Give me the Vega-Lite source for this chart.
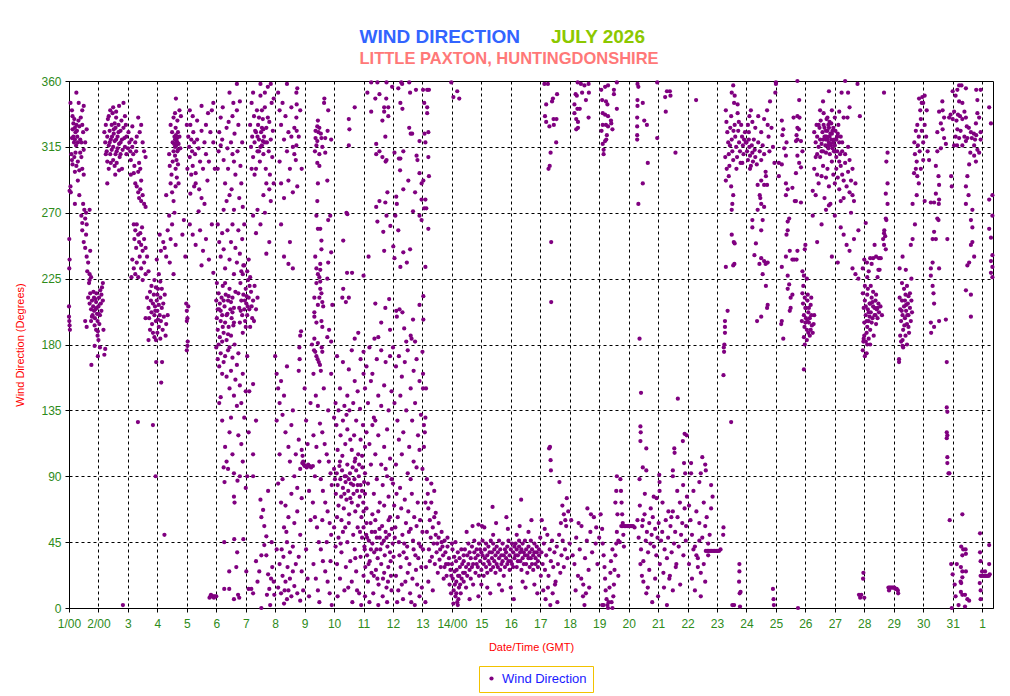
{
  "$schema": "https://vega.github.io/schema/vega-lite/v6.json",
  "background": "white",
  "padding": {"left": 14, "top": 27, "right": 18, "bottom": 4},
  "title": {
    "text": "WIND DIRECTION",
    "subtitle": "LITTLE PAXTON, HUNTINGDONSHIRE",
    "anchor": "start",
    "dx": 345,
    "dy": 40,
    "color": "#3264ff",
    "subtitleColor": "#ff7878",
    "font": "Liberation Sans",
    "subtitleFont": "Liberation Sans",
    "fontSize": 19,
    "subtitleFontSize": 16.5,
    "fontWeight": "bold",
    "subtitleFontWeight": "bold",
    "subtitlePadding": 4,
    "offset": 0
  },
  "vconcat": [
    {
      "title": {
        "text": "JULY 2026",
        "anchor": "start",
        "dx": 536,
        "color": "#8cc800",
        "font": "Liberation Sans",
        "fontSize": 19,
        "fontWeight": "bold",
        "offset": 28
      },
      "width": 924,
      "height": 527,
      "data": {
        "values": [
          {"day":1.01,"dir":252},{"day":1.02,"dir":238},{"day":1.01,"dir":232},{"day":1.0,"dir":206},{"day":1.01,"dir":196},{"day":1.02,"dir":193},{"day":1.03,"dir":190},{"day":1.0,"dir":199},
          {"day":1.1,"dir":340},{"day":1.12,"dir":336},{"day":1.15,"dir":331},{"day":1.18,"dir":334},{"day":1.2,"dir":328},{"day":1.22,"dir":325},{"day":1.25,"dir":330},{"day":1.28,"dir":322},{"day":1.3,"dir":318},{"day":1.15,"dir":322},{"day":1.17,"dir":318},{"day":1.2,"dir":320},{"day":1.24,"dir":316},{"day":1.27,"dir":326},{"day":1.32,"dir":333},{"day":1.35,"dir":329},{"day":1.38,"dir":320},{"day":1.12,"dir":327},{"day":1.1,"dir":321},{"day":1.4,"dir":335},{"day":1.45,"dir":340},{"day":1.5,"dir":343},{"day":1.33,"dir":345},{"day":1.25,"dir":352},{"day":1.08,"dir":310},{"day":1.1,"dir":306},{"day":1.12,"dir":303},{"day":1.2,"dir":298},{"day":1.25,"dir":302},{"day":1.3,"dir":305},{"day":1.35,"dir":299},{"day":1.42,"dir":308},{"day":1.45,"dir":300},{"day":1.5,"dir":296},{"day":1.55,"dir":318},{"day":1.6,"dir":327},{"day":1.48,"dir":325},{"day":1.42,"dir":318},{"day":1.22,"dir":311},{"day":1.18,"dir":308},{"day":1.05,"dir":345},{"day":1.45,"dir":330},{"day":1.5,"dir":313},{"day":1.38,"dir":311},
          {"day":1.05,"dir":288},{"day":1.06,"dir":284},{"day":1.3,"dir":292},{"day":1.35,"dir":282},{"day":1.48,"dir":276},{"day":1.52,"dir":272},{"day":1.55,"dir":266},{"day":1.58,"dir":270},{"day":1.6,"dir":262},{"day":1.45,"dir":258},{"day":1.5,"dir":250},{"day":1.55,"dir":246},{"day":1.6,"dir":240},{"day":1.65,"dir":236},{"day":1.62,"dir":230},{"day":1.7,"dir":228},{"day":1.68,"dir":222},{"day":1.75,"dir":226},{"day":1.72,"dir":244},{"day":1.58,"dir":255},{"day":1.42,"dir":268},{"day":1.45,"dir":263},{"day":1.2,"dir":276},{"day":1.7,"dir":272},{"day":1.02,"dir":285},
          {"day":1.65,"dir":212},{"day":1.7,"dir":208},{"day":1.72,"dir":215},{"day":1.75,"dir":204},{"day":1.78,"dir":210},{"day":1.8,"dir":200},{"day":1.82,"dir":206},{"day":1.85,"dir":212},{"day":1.88,"dir":198},{"day":1.9,"dir":204},{"day":1.92,"dir":209},{"day":1.95,"dir":201},{"day":1.97,"dir":196},{"day":2.0,"dir":206},{"day":2.02,"dir":212},{"day":2.05,"dir":200},{"day":2.08,"dir":208},{"day":2.1,"dir":214},{"day":2.12,"dir":219},{"day":2.15,"dir":222},{"day":1.87,"dir":193},{"day":1.92,"dir":190},{"day":1.98,"dir":189},{"day":2.03,"dir":194},{"day":1.78,"dir":199},{"day":1.83,"dir":216},{"day":1.93,"dir":215},{"day":2.06,"dir":217},{"day":1.94,"dir":205},{"day":1.9,"dir":211},{"day":2.0,"dir":201},{"day":1.85,"dir":203},{"day":2.1,"dir":203},{"day":1.75,"dir":196},{"day":1.97,"dir":186},{"day":2.0,"dir":183},{"day":2.05,"dir":178},{"day":1.6,"dir":192},{"day":1.55,"dir":196},{"day":1.98,"dir":172},{"day":1.7,"dir":224},{"day":2.15,"dir":210},{"day":2.17,"dir":190},{"day":1.76,"dir":166},{"day":1.87,"dir":179},{"day":2.2,"dir":173},{"day":2.23,"dir":177},
          {"day":2.2,"dir":325},{"day":2.23,"dir":318},{"day":2.25,"dir":330},{"day":2.28,"dir":312},{"day":2.3,"dir":322},{"day":2.32,"dir":334},{"day":2.35,"dir":316},{"day":2.38,"dir":326},{"day":2.4,"dir":310},{"day":2.42,"dir":320},{"day":2.45,"dir":330},{"day":2.48,"dir":338},{"day":2.5,"dir":315},{"day":2.52,"dir":324},{"day":2.55,"dir":319},{"day":2.58,"dir":328},{"day":2.6,"dir":335},{"day":2.62,"dir":312},{"day":2.65,"dir":322},{"day":2.68,"dir":330},{"day":2.7,"dir":317},{"day":2.72,"dir":308},{"day":2.75,"dir":326},{"day":2.78,"dir":333},{"day":2.8,"dir":320},{"day":2.82,"dir":313},{"day":2.85,"dir":328},{"day":2.88,"dir":321},{"day":2.9,"dir":315},{"day":2.93,"dir":330},{"day":2.95,"dir":322},{"day":2.3,"dir":305},{"day":2.35,"dir":300},{"day":2.42,"dir":304},{"day":2.5,"dir":306},{"day":2.55,"dir":302},{"day":2.62,"dir":304},{"day":2.7,"dir":299},{"day":2.75,"dir":310},{"day":2.4,"dir":340},{"day":2.5,"dir":342},{"day":2.6,"dir":339},{"day":2.7,"dir":343},{"day":2.35,"dir":336},{"day":2.45,"dir":313},{"day":2.55,"dir":331},{"day":2.65,"dir":314},{"day":2.25,"dir":310},{"day":2.52,"dir":327},{"day":2.6,"dir":320},{"day":2.46,"dir":322},{"day":2.38,"dir":318},{"day":2.3,"dir":290},{"day":2.57,"dir":296},{"day":2.85,"dir":345},{"day":2.9,"dir":336},{"day":2.95,"dir":310},{"day":3.0,"dir":314},{"day":2.8,"dir":300},{"day":2.68,"dir":325},{"day":2.75,"dir":318},{"day":2.58,"dir":310},
          {"day":3.02,"dir":325},{"day":3.05,"dir":318},{"day":3.08,"dir":312},{"day":3.1,"dir":306},{"day":3.12,"dir":320},{"day":3.15,"dir":315},{"day":3.18,"dir":310},{"day":3.22,"dir":302},{"day":3.25,"dir":318},{"day":3.28,"dir":312},{"day":3.3,"dir":322},{"day":3.35,"dir":298},{"day":3.38,"dir":304},{"day":3.42,"dir":300},{"day":3.45,"dir":292},{"day":3.5,"dir":318},{"day":3.55,"dir":312},{"day":3.6,"dir":308},{"day":3.45,"dir":330},{"day":3.4,"dir":325},{"day":3.35,"dir":335},{"day":3.2,"dir":297},{"day":3.1,"dir":296},{"day":3.15,"dir":329},
          {"day":3.3,"dir":288},{"day":3.35,"dir":284},{"day":3.38,"dir":280},{"day":3.42,"dir":286},{"day":3.45,"dir":278},{"day":3.5,"dir":282},{"day":3.55,"dir":276},{"day":3.6,"dir":274},{"day":3.25,"dir":290},
          {"day":3.2,"dir":262},{"day":3.25,"dir":258},{"day":3.3,"dir":262},{"day":3.35,"dir":255},{"day":3.38,"dir":250},{"day":3.42,"dir":256},{"day":3.45,"dir":248},{"day":3.5,"dir":244},{"day":3.55,"dir":252},{"day":3.6,"dir":246},{"day":3.28,"dir":246},{"day":3.22,"dir":252},{"day":3.48,"dir":260},
          {"day":3.15,"dir":238},{"day":3.2,"dir":232},{"day":3.25,"dir":228},{"day":3.3,"dir":236},{"day":3.35,"dir":226},{"day":3.4,"dir":240},{"day":3.45,"dir":232},{"day":3.5,"dir":224},{"day":3.55,"dir":236},{"day":3.6,"dir":228},{"day":3.65,"dir":240},{"day":3.7,"dir":230},{"day":3.12,"dir":226},
          {"day":3.65,"dir":212},{"day":3.7,"dir":205},{"day":3.72,"dir":198},{"day":3.75,"dir":216},{"day":3.78,"dir":210},{"day":3.8,"dir":202},{"day":3.82,"dir":194},{"day":3.85,"dir":208},{"day":3.88,"dir":214},{"day":3.9,"dir":200},{"day":3.92,"dir":206},{"day":3.95,"dir":196},{"day":3.98,"dir":210},{"day":4.0,"dir":203},{"day":4.02,"dir":218},{"day":4.05,"dir":207},{"day":4.08,"dir":200},{"day":4.1,"dir":212},{"day":4.12,"dir":196},{"day":4.15,"dir":205},{"day":4.18,"dir":190},{"day":4.2,"dir":208},{"day":4.22,"dir":199},{"day":4.25,"dir":214},{"day":4.28,"dir":186},{"day":4.3,"dir":194},{"day":3.85,"dir":188},{"day":3.9,"dir":185},{"day":3.95,"dir":183},{"day":4.05,"dir":192},{"day":4.0,"dir":188},{"day":4.1,"dir":184},{"day":3.75,"dir":190},{"day":3.8,"dir":220},{"day":4.0,"dir":214},{"day":3.95,"dir":219},{"day":4.15,"dir":218},{"day":4.35,"dir":200},{"day":3.6,"dir":198},{"day":3.7,"dir":183},{"day":4.1,"dir":223},{"day":4.05,"dir":228},{"day":3.98,"dir":238},{"day":4.12,"dir":244},{"day":4.2,"dir":250},{"day":4.25,"dir":246},{"day":4.08,"dir":255},{"day":3.9,"dir":224},{"day":4.02,"dir":197},{"day":3.93,"dir":203},
          {"day":2.83,"dir":2},{"day":3.94,"dir":90},{"day":3.96,"dir":168},{"day":4.13,"dir":154},{"day":4.16,"dir":168},{"day":3.34,"dir":127},{"day":3.85,"dir":125},{"day":4.24,"dir":50},
          {"day":4.45,"dir":330},{"day":4.5,"dir":325},{"day":4.52,"dir":318},{"day":4.55,"dir":312},{"day":4.58,"dir":322},{"day":4.6,"dir":315},{"day":4.62,"dir":328},{"day":4.65,"dir":319},{"day":4.68,"dir":312},{"day":4.7,"dir":325},{"day":4.72,"dir":317},{"day":4.75,"dir":322},{"day":4.78,"dir":314},{"day":4.6,"dir":309},{"day":4.65,"dir":306},{"day":4.7,"dir":303},{"day":4.62,"dir":300},{"day":4.55,"dir":335},{"day":4.6,"dir":338},{"day":4.68,"dir":333},{"day":4.75,"dir":340},{"day":4.8,"dir":336},{"day":4.52,"dir":305},{"day":4.48,"dir":296},{"day":4.45,"dir":290},{"day":4.42,"dir":302},{"day":4.4,"dir":310},{"day":4.5,"dir":284},{"day":4.55,"dir":278},{"day":4.62,"dir":288},{"day":4.66,"dir":294},{"day":4.72,"dir":290},{"day":4.58,"dir":270},{"day":4.64,"dir":316},{"day":4.67,"dir":321},{"day":4.57,"dir":317},{"day":4.7,"dir":313},{"day":4.63,"dir":323},{"day":4.6,"dir":320},{"day":4.68,"dir":318},{"day":4.63,"dir":348},{"day":4.3,"dir":282},{"day":4.4,"dir":268},{"day":4.5,"dir":262},{"day":4.35,"dir":258},{"day":4.45,"dir":252},{"day":4.3,"dir":240},{"day":4.42,"dir":236},{"day":4.55,"dir":228},{"day":4.62,"dir":248},
          {"day":5.0,"dir":330},{"day":5.05,"dir":322},{"day":5.08,"dir":315},{"day":5.1,"dir":308},{"day":5.12,"dir":330},{"day":5.15,"dir":320},{"day":5.18,"dir":312},{"day":5.2,"dir":302},{"day":5.22,"dir":325},{"day":5.25,"dir":318},{"day":5.28,"dir":310},{"day":5.3,"dir":297},{"day":5.35,"dir":320},{"day":5.4,"dir":314},{"day":5.45,"dir":305},{"day":5.5,"dir":326},{"day":5.55,"dir":300},{"day":5.6,"dir":318},{"day":5.65,"dir":310},{"day":5.7,"dir":292},{"day":5.75,"dir":305},{"day":5.8,"dir":325},{"day":5.85,"dir":340},{"day":5.1,"dir":340},{"day":5.2,"dir":336},{"day":5.35,"dir":333},{"day":5.5,"dir":343},{"day":5.02,"dir":300},{"day":5.15,"dir":296},{"day":5.3,"dir":290},{"day":5.42,"dir":286},{"day":5.5,"dir":280},{"day":5.6,"dir":276},{"day":5.4,"dir":271},{"day":5.12,"dir":283},{"day":5.25,"dir":288},{"day":5.65,"dir":330},{"day":5.72,"dir":338},{"day":5.9,"dir":345},{"day":5.9,"dir":318},{"day":5.95,"dir":300},
          {"day":4.98,"dir":208},{"day":5.0,"dir":203},{"day":5.02,"dir":198},{"day":5.05,"dir":206},{"day":5.0,"dir":196},{"day":5.03,"dir":182},{"day":5.0,"dir":176},{"day":5.02,"dir":179},
          {"day":5.1,"dir":262},{"day":5.2,"dir":255},{"day":5.3,"dir":248},{"day":5.45,"dir":258},{"day":5.55,"dir":244},{"day":5.65,"dir":252},{"day":5.75,"dir":238},{"day":5.85,"dir":262},{"day":5.9,"dir":229},{"day":5.5,"dir":234},{"day":4.9,"dir":265},{"day":4.85,"dir":255},{"day":4.95,"dir":240},
          {"day":6.05,"dir":300},{"day":6.08,"dir":312},{"day":6.1,"dir":325},{"day":6.15,"dir":335},{"day":6.2,"dir":320},{"day":6.22,"dir":342},{"day":6.25,"dir":306},{"day":6.3,"dir":290},{"day":6.35,"dir":328},{"day":6.38,"dir":314},{"day":6.4,"dir":300},{"day":6.45,"dir":352},{"day":6.5,"dir":318},{"day":6.52,"dir":286},{"day":6.55,"dir":336},{"day":6.58,"dir":345},{"day":6.6,"dir":305},{"day":6.62,"dir":324},{"day":6.65,"dir":296},{"day":6.7,"dir":358},{"day":6.72,"dir":312},{"day":6.75,"dir":330},{"day":6.78,"dir":280},{"day":6.8,"dir":346},{"day":6.85,"dir":290},{"day":6.88,"dir":318},{"day":6.9,"dir":274},{"day":6.35,"dir":278},{"day":6.45,"dir":282},{"day":6.25,"dir":272},{"day":6.6,"dir":272},{"day":6.15,"dir":316},{"day":6.42,"dir":332},{"day":6.55,"dir":310},{"day":6.7,"dir":340},{"day":6.82,"dir":302},
          {"day":6.05,"dir":262},{"day":6.1,"dir":250},{"day":6.15,"dir":240},{"day":6.2,"dir":256},{"day":6.25,"dir":245},{"day":6.3,"dir":232},{"day":6.38,"dir":258},{"day":6.45,"dir":238},{"day":6.5,"dir":250},{"day":6.55,"dir":262},{"day":6.6,"dir":228},{"day":6.65,"dir":246},{"day":6.7,"dir":236},{"day":6.75,"dir":258},{"day":6.8,"dir":242},{"day":6.88,"dir":252},{"day":6.95,"dir":262},{"day":6.92,"dir":234},
          {"day":6.0,"dir":210},{"day":6.02,"dir":198},{"day":6.05,"dir":190},{"day":6.08,"dir":215},{"day":6.1,"dir":204},{"day":6.12,"dir":185},{"day":6.15,"dir":196},{"day":6.18,"dir":212},{"day":6.2,"dir":200},{"day":6.22,"dir":220},{"day":6.25,"dir":188},{"day":6.28,"dir":206},{"day":6.3,"dir":195},{"day":6.32,"dir":214},{"day":6.35,"dir":183},{"day":6.38,"dir":201},{"day":6.4,"dir":210},{"day":6.42,"dir":192},{"day":6.45,"dir":218},{"day":6.48,"dir":204},{"day":6.5,"dir":186},{"day":6.52,"dir":198},{"day":6.55,"dir":212},{"day":6.58,"dir":193},{"day":6.6,"dir":205},{"day":6.62,"dir":180},{"day":6.65,"dir":216},{"day":6.02,"dir":222},{"day":6.12,"dir":208},{"day":6.22,"dir":192},{"day":6.3,"dir":222},{"day":6.4,"dir":187},{"day":6.5,"dir":209},{"day":6.6,"dir":195},{"day":6.08,"dir":180},{"day":6.2,"dir":182},{"day":6.45,"dir":178},{"day":6.15,"dir":203},{"day":6.35,"dir":200},{"day":6.55,"dir":202},{"day":6.25,"dir":210},{"day":6.05,"dir":204},{"day":6.42,"dir":213},
          {"day":6.75,"dir":215},{"day":6.78,"dir":205},{"day":6.8,"dir":195},{"day":6.82,"dir":222},{"day":6.85,"dir":210},{"day":6.88,"dir":200},{"day":6.9,"dir":228},{"day":6.92,"dir":214},{"day":6.95,"dir":204},{"day":6.98,"dir":196},{"day":7.0,"dir":218},{"day":7.02,"dir":208},{"day":7.05,"dir":200},{"day":7.08,"dir":224},{"day":7.1,"dir":212},{"day":7.12,"dir":204},{"day":7.15,"dir":192},{"day":7.18,"dir":216},{"day":7.2,"dir":206},{"day":7.22,"dir":198},{"day":7.25,"dir":210},{"day":7.3,"dir":220},{"day":7.35,"dir":204},{"day":6.85,"dir":230},{"day":6.95,"dir":234},{"day":7.05,"dir":230},{"day":7.1,"dir":238},{"day":6.9,"dir":188},{"day":7.0,"dir":192},{"day":7.15,"dir":226},{"day":7.28,"dir":196},{"day":7.4,"dir":212},{"day":6.97,"dir":210},{"day":7.03,"dir":213},{"day":7.07,"dir":206},{"day":6.83,"dir":203},{"day":7.13,"dir":220},
          {"day":6.0,"dir":178},{"day":6.05,"dir":170},{"day":6.1,"dir":165},{"day":6.15,"dir":174},{"day":6.2,"dir":160},{"day":6.25,"dir":168},{"day":6.3,"dir":172},{"day":6.35,"dir":158},{"day":6.4,"dir":176},{"day":6.45,"dir":150},{"day":6.5,"dir":162},{"day":6.55,"dir":171},{"day":6.6,"dir":145},{"day":6.65,"dir":156},{"day":6.7,"dir":166},{"day":6.75,"dir":174},{"day":6.8,"dir":152},{"day":6.85,"dir":140},{"day":6.9,"dir":160},{"day":6.95,"dir":130},{"day":7.0,"dir":148},{"day":7.05,"dir":172},{"day":6.1,"dir":140},{"day":6.2,"dir":128},{"day":6.3,"dir":110},{"day":6.35,"dir":100},{"day":6.4,"dir":95},{"day":6.45,"dir":120},{"day":6.55,"dir":105},{"day":6.6,"dir":92},{"day":6.7,"dir":138},{"day":6.75,"dir":118},{"day":6.85,"dir":112},{"day":6.9,"dir":100},{"day":7.0,"dir":82},{"day":7.05,"dir":90},{"day":6.5,"dir":130},{"day":6.15,"dir":144},{"day":7.1,"dir":120},{"day":6.25,"dir":96},{"day":6.8,"dir":90},{"day":6.6,"dir":76},{"day":6.62,"dir":72},{"day":6.28,"dir":86},{"day":6.72,"dir":87},{"day":7.12,"dir":148},{"day":7.25,"dir":153},{"day":7.35,"dir":128},{"day":7.25,"dir":105},{"day":7.25,"dir":90},
          {"day":5.77,"dir":7},{"day":5.8,"dir":8},{"day":5.85,"dir":8},{"day":5.9,"dir":8},{"day":5.95,"dir":8},{"day":6.0,"dir":8},{"day":5.82,"dir":9},{"day":5.92,"dir":7},
          {"day":6.27,"dir":45},{"day":6.61,"dir":47},{"day":6.92,"dir":47},{"day":6.71,"dir":38},{"day":6.44,"dir":25},{"day":6.68,"dir":28},{"day":7.02,"dir":25},{"day":6.27,"dir":13},{"day":6.44,"dir":13},{"day":6.74,"dir":9},{"day":6.78,"dir":7},{"day":6.6,"dir":6},{"day":7.1,"dir":13},{"day":7.19,"dir":13},{"day":7.25,"dir":10},{"day":7.35,"dir":32},{"day":7.46,"dir":25},{"day":7.53,"dir":36},{"day":7.63,"dir":43},{"day":7.59,"dir":67},{"day":7.53,"dir":62},{"day":7.76,"dir":80},{"day":7.5,"dir":74},{"day":7.63,"dir":56},{"day":7.7,"dir":49},{"day":7.7,"dir":36},{"day":7.76,"dir":23},{"day":7.86,"dir":20},{"day":7.8,"dir":13},{"day":7.83,"dir":2},{"day":7.53,"dir":0},{"day":7.72,"dir":9},{"day":7.97,"dir":9},{"day":7.9,"dir":28},{"day":7.95,"dir":18},{"day":7.88,"dir":45},{"day":7.4,"dir":18},
          {"day":7.15,"dir":330},{"day":7.18,"dir":315},{"day":7.2,"dir":345},{"day":7.22,"dir":322},{"day":7.25,"dir":308},{"day":7.28,"dir":336},{"day":7.3,"dir":318},{"day":7.32,"dir":326},{"day":7.35,"dir":300},{"day":7.38,"dir":340},{"day":7.4,"dir":312},{"day":7.42,"dir":330},{"day":7.45,"dir":320},{"day":7.48,"dir":305},{"day":7.5,"dir":350},{"day":7.52,"dir":325},{"day":7.55,"dir":316},{"day":7.58,"dir":334},{"day":7.6,"dir":310},{"day":7.62,"dir":322},{"day":7.65,"dir":342},{"day":7.68,"dir":300},{"day":7.7,"dir":328},{"day":7.72,"dir":318},{"day":7.75,"dir":356},{"day":7.78,"dir":312},{"day":7.8,"dir":332},{"day":7.82,"dir":296},{"day":7.85,"dir":320},{"day":7.88,"dir":345},{"day":7.9,"dir":308},{"day":7.92,"dir":326},{"day":7.95,"dir":290},{"day":7.35,"dir":325},{"day":7.45,"dir":335},{"day":7.55,"dir":328},{"day":7.65,"dir":318},{"day":7.5,"dir":315},{"day":7.6,"dir":327},{"day":7.4,"dir":322},{"day":7.3,"dir":296},{"day":7.7,"dir":290},{"day":7.8,"dir":286},{"day":7.6,"dir":282},{"day":7.2,"dir":300},{"day":7.5,"dir":358},{"day":7.65,"dir":352},{"day":7.85,"dir":358},{"day":7.95,"dir":348},{"day":7.25,"dir":352},{"day":7.55,"dir":340},{"day":7.75,"dir":335},{"day":7.45,"dir":312},{"day":7.58,"dir":319},
          {"day":7.25,"dir":268},{"day":7.35,"dir":256},{"day":7.5,"dir":262},{"day":7.65,"dir":270},{"day":7.8,"dir":250},{"day":7.7,"dir":242},{"day":7.85,"dir":278},{"day":7.4,"dir":272},
          {"day":8.1,"dir":352},{"day":8.15,"dir":340},{"day":8.2,"dir":330},{"day":8.25,"dir":345},{"day":8.3,"dir":320},{"day":8.35,"dir":336},{"day":8.4,"dir":312},{"day":8.45,"dir":325},{"day":8.5,"dir":300},{"day":8.55,"dir":342},{"day":8.6,"dir":315},{"day":8.65,"dir":328},{"day":8.7,"dir":306},{"day":8.75,"dir":355},{"day":8.8,"dir":322},{"day":8.85,"dir":340},{"day":8.9,"dir":300},{"day":8.2,"dir":290},{"day":8.3,"dir":280},{"day":8.45,"dir":292},{"day":8.6,"dir":284},{"day":8.75,"dir":288},{"day":8.15,"dir":305},{"day":8.4,"dir":358},{"day":8.55,"dir":322},{"day":8.65,"dir":310},{"day":8.72,"dir":352},{"day":8.73,"dir":344},{"day":8.72,"dir":335},{"day":8.73,"dir":326},{"day":8.72,"dir":316},{"day":8.2,"dir":262},{"day":8.3,"dir":240},{"day":8.45,"dir":235},{"day":8.5,"dir":250},{"day":8.6,"dir":232},{"day":8.88,"dir":189},{"day":8.85,"dir":186},
          {"day":8.0,"dir":172},{"day":8.05,"dir":160},{"day":8.1,"dir":150},{"day":8.15,"dir":140},{"day":8.2,"dir":155},{"day":8.25,"dir":132},{"day":8.3,"dir":145},{"day":8.35,"dir":120},{"day":8.4,"dir":165},{"day":8.45,"dir":110},{"day":8.5,"dir":100},{"day":8.55,"dir":125},{"day":8.6,"dir":135},{"day":8.65,"dir":90},{"day":8.7,"dir":105},{"day":8.75,"dir":82},{"day":8.8,"dir":115},{"day":8.85,"dir":95},{"day":8.9,"dir":75},{"day":8.05,"dir":128},{"day":8.15,"dir":105},{"day":8.25,"dir":88},{"day":8.35,"dir":70},{"day":8.45,"dir":62},{"day":8.55,"dir":78},{"day":8.65,"dir":58},{"day":8.75,"dir":66},{"day":8.85,"dir":50},{"day":8.1,"dir":85},{"day":8.2,"dir":72},{"day":8.3,"dir":55},{"day":8.4,"dir":45},{"day":8.5,"dir":38},{"day":8.6,"dir":42},{"day":8.7,"dir":30},{"day":8.8,"dir":35},{"day":8.9,"dir":25},{"day":8.05,"dir":40},{"day":8.15,"dir":30},{"day":8.25,"dir":22},{"day":8.35,"dir":18},{"day":8.45,"dir":12},{"day":8.55,"dir":8},{"day":8.65,"dir":15},{"day":8.75,"dir":10},{"day":8.85,"dir":5},{"day":8.2,"dir":10},{"day":8.3,"dir":3},{"day":8.4,"dir":6},{"day":8.5,"dir":20},{"day":8.6,"dir":25},{"day":8.95,"dir":12},{"day":8.1,"dir":14},{"day":8.32,"dir":12},{"day":8.42,"dir":28},{"day":8.22,"dir":40},{"day":8.28,"dir":35},{"day":8.38,"dir":52},{"day":8.82,"dir":178},{"day":8.83,"dir":170},{"day":8.8,"dir":162},
          {"day":9.43,"dir":329},{"day":9.5,"dir":328},{"day":9.37,"dir":326},{"day":9.78,"dir":326},{"day":9.37,"dir":321},{"day":9.57,"dir":321},{"day":9.7,"dir":321},{"day":9.43,"dir":319},{"day":9.4,"dir":316},{"day":9.5,"dir":310},{"day":9.7,"dir":311},{"day":9.43,"dir":304},{"day":9.5,"dir":302},{"day":9.77,"dir":292},{"day":9.45,"dir":290},{"day":9.43,"dir":278},{"day":9.67,"dir":348},{"day":9.66,"dir":345},{"day":9.45,"dir":333},{"day":9.55,"dir":324},{"day":9.6,"dir":315},{"day":9.35,"dir":312},{"day":9.8,"dir":340},{"day":9.9,"dir":320},{"day":9.47,"dir":325},
          {"day":9.4,"dir":268},{"day":9.8,"dir":265},{"day":9.87,"dir":268},{"day":9.45,"dir":259},{"day":9.53,"dir":259},{"day":9.57,"dir":251},{"day":9.57,"dir":245},{"day":9.9,"dir":243},{"day":9.36,"dir":240},{"day":9.8,"dir":236},{"day":9.4,"dir":232},{"day":9.53,"dir":235},{"day":9.53,"dir":231},{"day":9.45,"dir":228},{"day":9.5,"dir":226},{"day":9.77,"dir":225},{"day":9.53,"dir":223},{"day":9.4,"dir":222},{"day":9.53,"dir":218},{"day":9.57,"dir":215},{"day":9.33,"dir":212},{"day":9.5,"dir":212},{"day":9.6,"dir":209},{"day":9.45,"dir":207},{"day":9.94,"dir":207},{"day":9.63,"dir":206},{"day":9.33,"dir":202},{"day":9.33,"dir":199},{"day":9.57,"dir":196},{"day":9.4,"dir":195},{"day":9.6,"dir":192},{"day":9.83,"dir":190},{"day":9.77,"dir":185},{"day":9.33,"dir":184},{"day":9.45,"dir":181},{"day":9.9,"dir":182},{"day":9.36,"dir":175},{"day":9.44,"dir":170},{"day":9.52,"dir":166},{"day":9.58,"dir":178},
          {"day":10.31,"dir":251},{"day":10.44,"dir":229},{"day":10.61,"dir":229},{"day":11.0,"dir":227},{"day":10.45,"dir":269},{"day":10.5,"dir":334},{"day":10.52,"dir":327},{"day":10.7,"dir":342},{"day":10.5,"dir":316},{"day":10.31,"dir":218},{"day":10.28,"dir":212},{"day":10.5,"dir":212},{"day":10.4,"dir":209},{"day":10.82,"dir":188},{"day":10.7,"dir":184},{"day":10.42,"dir":270},
          {"day":11.26,"dir":359},{"day":11.47,"dir":359},{"day":11.78,"dir":359},{"day":12.28,"dir":359},{"day":12.55,"dir":359},{"day":11.13,"dir":352},{"day":11.4,"dir":348},{"day":11.54,"dir":351},{"day":11.77,"dir":348},{"day":11.7,"dir":342},{"day":11.84,"dir":342},{"day":11.26,"dir":339},{"day":11.7,"dir":339},{"day":11.84,"dir":336},{"day":11.64,"dir":333},{"day":12.25,"dir":345},{"day":12.32,"dir":341},{"day":12.18,"dir":355},{"day":11.97,"dir":356},{"day":12.31,"dir":358},{"day":12.58,"dir":352},{"day":12.78,"dir":354},{"day":13.02,"dir":354},{"day":13.16,"dir":354},{"day":13.22,"dir":354},{"day":13.06,"dir":345},{"day":13.16,"dir":342},{"day":13.16,"dir":338},{"day":12.55,"dir":328},{"day":12.6,"dir":324},{"day":12.65,"dir":324},{"day":13.2,"dir":325},{"day":13.07,"dir":324},{"day":12.9,"dir":319},{"day":13.1,"dir":318},{"day":11.74,"dir":322},{"day":11.43,"dir":317},
          {"day":11.54,"dir":312},{"day":11.43,"dir":310},{"day":11.64,"dir":308},{"day":12.05,"dir":311},{"day":12.2,"dir":307},{"day":12.25,"dir":307},{"day":12.35,"dir":312},{"day":12.8,"dir":309},{"day":12.83,"dir":306},{"day":13.2,"dir":308},{"day":11.75,"dir":305},{"day":11.78,"dir":306},{"day":12.24,"dir":299},{"day":12.9,"dir":297},{"day":13.22,"dir":295},{"day":12.52,"dir":292},{"day":12.35,"dir":286},{"day":13.03,"dir":292},{"day":12.97,"dir":290},{"day":11.81,"dir":284},{"day":12.11,"dir":281},{"day":12.75,"dir":284},{"day":12.97,"dir":279},{"day":13.1,"dir":279},{"day":11.74,"dir":277},{"day":12.13,"dir":276},{"day":11.54,"dir":278},{"day":11.43,"dir":274},{"day":12.68,"dir":271},{"day":13.06,"dir":273},{"day":13.13,"dir":273},
          {"day":11.78,"dir":268},{"day":12.08,"dir":268},{"day":11.47,"dir":264},{"day":11.91,"dir":261},{"day":12.18,"dir":258},{"day":11.67,"dir":257},{"day":12.9,"dir":268},{"day":12.97,"dir":265},{"day":13.2,"dir":259},{"day":12.01,"dir":247},{"day":11.7,"dir":244},{"day":12.05,"dir":239},{"day":12.35,"dir":243},{"day":12.58,"dir":245},{"day":12.47,"dir":236},{"day":11.17,"dir":240},{"day":12.25,"dir":233},{"day":13.1,"dir":233},{"day":13.03,"dir":213},{"day":12.9,"dir":207},{"day":11.87,"dir":211},{"day":11.4,"dir":208},{"day":11.74,"dir":205},{"day":12.11,"dir":203},{"day":12.22,"dir":204},{"day":12.13,"dir":199},{"day":12.32,"dir":202},{"day":12.68,"dir":197},{"day":13.03,"dir":197},{"day":12.38,"dir":191},{"day":12.63,"dir":184},{"day":12.6,"dir":186},{"day":12.75,"dir":182},{"day":12.45,"dir":182},{"day":11.37,"dir":184},{"day":11.5,"dir":185},{"day":11.6,"dir":195},{"day":11.9,"dir":190},
          {"day":13.98,"dir":359},{"day":14.18,"dir":353},{"day":14.05,"dir":349},{"day":14.25,"dir":348},
          {"day":9.0,"dir":150},{"day":9.05,"dir":128},{"day":9.1,"dir":112},{"day":9.15,"dir":80},{"day":9.2,"dir":60},{"day":9.05,"dir":40},{"day":9.1,"dir":20},{"day":9.15,"dir":8},{"day":8.92,"dir":99},{"day":8.97,"dir":98},{"day":9.0,"dir":97},{"day":9.03,"dir":97},{"day":9.07,"dir":96},{"day":9.12,"dir":98},{"day":9.17,"dir":97},{"day":9.22,"dir":96},{"day":9.28,"dir":97},{"day":8.9,"dir":108},{"day":8.93,"dir":104},{"day":8.95,"dir":100},
          {"day":9.25,"dir":180},{"day":9.32,"dir":176},{"day":9.4,"dir":172},{"day":9.48,"dir":168},{"day":9.55,"dir":162},{"day":9.6,"dir":175},{"day":9.3,"dir":160},{"day":9.38,"dir":145},{"day":9.45,"dir":138},{"day":9.52,"dir":126},{"day":9.6,"dir":120},{"day":9.68,"dir":112},{"day":9.75,"dir":105},{"day":9.82,"dir":100},{"day":9.88,"dir":92},{"day":9.92,"dir":84},{"day":9.3,"dir":118},{"day":9.4,"dir":110},{"day":9.5,"dir":100},{"day":9.55,"dir":88},{"day":9.62,"dir":80},{"day":9.7,"dir":72},{"day":9.78,"dir":66},{"day":9.85,"dir":58},{"day":9.9,"dir":50},{"day":9.28,"dir":72},{"day":9.35,"dir":62},{"day":9.42,"dir":55},{"day":9.48,"dir":45},{"day":9.55,"dir":40},{"day":9.62,"dir":32},{"day":9.7,"dir":25},{"day":9.78,"dir":18},{"day":9.85,"dir":10},{"day":9.92,"dir":2},{"day":9.3,"dir":30},{"day":9.38,"dir":20},{"day":9.45,"dir":12},{"day":9.5,"dir":4},{"day":9.6,"dir":60},{"day":9.75,"dir":45},{"day":9.88,"dir":32},{"day":9.35,"dir":90},{"day":9.8,"dir":135},{"day":9.65,"dir":150},{"day":9.9,"dir":160},{"day":9.2,"dir":140},
          {"day":10.1,"dir":172},{"day":10.3,"dir":168},{"day":10.5,"dir":163},{"day":10.7,"dir":155},{"day":10.9,"dir":170},{"day":10.2,"dir":150},{"day":10.45,"dir":145},{"day":10.8,"dir":148},{"day":11.0,"dir":160},{"day":10.6,"dir":176},{"day":10.05,"dir":140},
          {"day":10.0,"dir":130},{"day":10.08,"dir":125},{"day":10.15,"dir":135},{"day":10.22,"dir":118},{"day":10.3,"dir":128},{"day":10.38,"dir":112},{"day":10.45,"dir":122},{"day":10.52,"dir":135},{"day":10.6,"dir":108},{"day":10.68,"dir":118},{"day":10.75,"dir":128},{"day":10.82,"dir":105},{"day":10.9,"dir":115},{"day":10.98,"dir":125},{"day":10.12,"dir":108},{"day":10.28,"dir":104},{"day":10.42,"dir":132},{"day":10.55,"dir":115},{"day":10.72,"dir":102},{"day":10.88,"dir":136},{"day":11.05,"dir":110},{"day":10.35,"dir":138},{"day":10.65,"dir":140},{"day":10.95,"dir":104},
          {"day":10.0,"dir":95},{"day":10.03,"dir":88},{"day":10.06,"dir":78},{"day":10.09,"dir":92},{"day":10.12,"dir":84},{"day":10.15,"dir":70},{"day":10.18,"dir":97},{"day":10.21,"dir":88},{"day":10.24,"dir":76},{"day":10.27,"dir":94},{"day":10.3,"dir":82},{"day":10.33,"dir":68},{"day":10.36,"dir":90},{"day":10.39,"dir":86},{"day":10.42,"dir":74},{"day":10.45,"dir":98},{"day":10.48,"dir":80},{"day":10.51,"dir":64},{"day":10.54,"dir":92},{"day":10.57,"dir":85},{"day":10.6,"dir":72},{"day":10.63,"dir":96},{"day":10.66,"dir":78},{"day":10.69,"dir":88},{"day":10.72,"dir":66},{"day":10.75,"dir":94},{"day":10.78,"dir":80},{"day":10.81,"dir":70},{"day":10.84,"dir":90},{"day":10.87,"dir":76},{"day":10.9,"dir":84},{"day":10.93,"dir":62},{"day":10.96,"dir":96},{"day":10.99,"dir":72},{"day":11.02,"dir":86},{"day":11.05,"dir":78},{"day":10.1,"dir":62},{"day":10.25,"dir":60},{"day":10.4,"dir":90},{"day":10.55,"dir":75},{"day":10.7,"dir":100},{"day":10.85,"dir":98},{"day":11.0,"dir":66},{"day":10.2,"dir":100},{"day":10.5,"dir":88},{"day":10.8,"dir":84},{"day":10.35,"dir":78},{"day":10.65,"dir":84},{"day":10.95,"dir":80},
          {"day":10.0,"dir":55},{"day":10.05,"dir":42},{"day":10.1,"dir":30},{"day":10.15,"dir":48},{"day":10.2,"dir":20},{"day":10.25,"dir":38},{"day":10.3,"dir":52},{"day":10.35,"dir":12},{"day":10.4,"dir":28},{"day":10.45,"dir":45},{"day":10.5,"dir":58},{"day":10.55,"dir":32},{"day":10.6,"dir":18},{"day":10.65,"dir":50},{"day":10.7,"dir":40},{"day":10.75,"dir":25},{"day":10.8,"dir":55},{"day":10.85,"dir":10},{"day":10.9,"dir":35},{"day":10.95,"dir":48},{"day":11.0,"dir":22},{"day":10.12,"dir":8},{"day":10.38,"dir":55},{"day":10.62,"dir":4},{"day":10.78,"dir":12},{"day":10.92,"dir":2},{"day":10.22,"dir":44},{"day":10.48,"dir":14},{"day":10.72,"dir":34},{"day":10.88,"dir":52},{"day":11.04,"dir":40},
          {"day":11.0,"dir":175},{"day":11.1,"dir":165},{"day":11.2,"dir":178},{"day":11.3,"dir":160},{"day":11.45,"dir":170},{"day":11.6,"dir":176},{"day":11.75,"dir":168},{"day":11.9,"dir":172},{"day":11.05,"dir":150},{"day":11.15,"dir":140},{"day":11.25,"dir":155},{"day":11.35,"dir":130},{"day":11.5,"dir":145},{"day":11.6,"dir":138},{"day":11.7,"dir":152},{"day":11.85,"dir":135},{"day":11.95,"dir":148},{"day":11.1,"dir":120},{"day":11.2,"dir":112},{"day":11.3,"dir":125},{"day":11.4,"dir":105},{"day":11.5,"dir":118},{"day":11.6,"dir":98},{"day":11.7,"dir":110},{"day":11.8,"dir":122},{"day":11.9,"dir":102},{"day":11.05,"dir":92},{"day":11.15,"dir":85},{"day":11.25,"dir":98},{"day":11.35,"dir":78},{"day":11.45,"dir":88},{"day":11.55,"dir":72},{"day":11.65,"dir":84},{"day":11.75,"dir":95},{"day":11.85,"dir":76},{"day":11.95,"dir":88},{"day":11.1,"dir":68},{"day":11.3,"dir":64},{"day":11.5,"dir":66},{"day":11.7,"dir":70},{"day":11.9,"dir":62},{"day":11.4,"dir":128},{"day":11.8,"dir":90},
          {"day":11.0,"dir":55},{"day":11.03,"dir":42},{"day":11.06,"dir":28},{"day":11.09,"dir":50},{"day":11.12,"dir":36},{"day":11.15,"dir":18},{"day":11.18,"dir":46},{"day":11.21,"dir":32},{"day":11.24,"dir":58},{"day":11.27,"dir":24},{"day":11.3,"dir":44},{"day":11.33,"dir":10},{"day":11.36,"dir":38},{"day":11.39,"dir":52},{"day":11.42,"dir":26},{"day":11.45,"dir":48},{"day":11.48,"dir":34},{"day":11.51,"dir":16},{"day":11.54,"dir":54},{"day":11.57,"dir":40},{"day":11.6,"dir":30},{"day":11.63,"dir":56},{"day":11.66,"dir":20},{"day":11.69,"dir":46},{"day":11.72,"dir":36},{"day":11.75,"dir":52},{"day":11.78,"dir":14},{"day":11.81,"dir":42},{"day":11.84,"dir":28},{"day":11.87,"dir":50},{"day":11.9,"dir":38},{"day":11.93,"dir":22},{"day":11.96,"dir":54},{"day":11.99,"dir":44},{"day":11.05,"dir":8},{"day":11.2,"dir":4},{"day":11.35,"dir":22},{"day":11.5,"dir":2},{"day":11.65,"dir":8},{"day":11.8,"dir":4},{"day":11.95,"dir":12},{"day":11.1,"dir":58},{"day":11.25,"dir":40},{"day":11.4,"dir":60},{"day":11.55,"dir":48},{"day":11.7,"dir":24},{"day":11.85,"dir":60},{"day":11.12,"dir":48},{"day":11.28,"dir":52},{"day":11.44,"dir":40},{"day":11.62,"dir":44},{"day":11.78,"dir":48},{"day":11.92,"dir":32},{"day":11.17,"dir":30},{"day":11.47,"dir":20},{"day":11.83,"dir":18},
          {"day":12.0,"dir":178},{"day":12.1,"dir":165},{"day":12.2,"dir":172},{"day":12.3,"dir":158},{"day":12.4,"dir":168},{"day":12.5,"dir":176},{"day":12.6,"dir":150},{"day":12.7,"dir":162},{"day":12.8,"dir":170},{"day":12.9,"dir":155},{"day":13.0,"dir":175},{"day":12.05,"dir":140},{"day":12.15,"dir":128},{"day":12.25,"dir":145},{"day":12.35,"dir":120},{"day":12.45,"dir":135},{"day":12.55,"dir":110},{"day":12.65,"dir":128},{"day":12.75,"dir":140},{"day":12.85,"dir":118},{"day":12.95,"dir":132},{"day":12.1,"dir":98},{"day":12.3,"dir":105},{"day":12.5,"dir":92},{"day":12.7,"dir":100},{"day":12.9,"dir":108},{"day":12.2,"dir":115},{"day":12.6,"dir":88},{"day":12.8,"dir":96},{"day":13.05,"dir":125},{"day":13.02,"dir":150},
          {"day":12.0,"dir":85},{"day":12.04,"dir":70},{"day":12.08,"dir":55},{"day":12.12,"dir":78},{"day":12.16,"dir":62},{"day":12.2,"dir":45},{"day":12.24,"dir":82},{"day":12.28,"dir":68},{"day":12.32,"dir":50},{"day":12.36,"dir":38},{"day":12.4,"dir":74},{"day":12.44,"dir":58},{"day":12.48,"dir":42},{"day":12.52,"dir":66},{"day":12.56,"dir":30},{"day":12.6,"dir":54},{"day":12.64,"dir":78},{"day":12.68,"dir":46},{"day":12.72,"dir":62},{"day":12.76,"dir":36},{"day":12.8,"dir":56},{"day":12.84,"dir":72},{"day":12.88,"dir":44},{"day":12.92,"dir":60},{"day":12.96,"dir":28},{"day":13.0,"dir":52},{"day":12.02,"dir":35},{"day":12.1,"dir":22},{"day":12.18,"dir":12},{"day":12.26,"dir":28},{"day":12.34,"dir":6},{"day":12.42,"dir":18},{"day":12.5,"dir":24},{"day":12.58,"dir":10},{"day":12.66,"dir":20},{"day":12.74,"dir":2},{"day":12.82,"dir":16},{"day":12.9,"dir":8},{"day":12.98,"dir":14},{"day":12.06,"dir":48},{"day":12.22,"dir":36},{"day":12.38,"dir":44},{"day":12.54,"dir":52},{"day":12.7,"dir":40},{"day":12.86,"dir":34},{"day":13.02,"dir":40},{"day":12.14,"dir":4},{"day":12.3,"dir":16},{"day":12.46,"dir":34},{"day":12.62,"dir":4},{"day":12.78,"dir":26},{"day":12.94,"dir":42},
          {"day":13.0,"dir":95},{"day":13.05,"dir":110},{"day":13.1,"dir":130},{"day":13.12,"dir":150},{"day":13.08,"dir":120},{"day":13.15,"dir":88},{"day":13.02,"dir":160},{"day":13.18,"dir":78},{"day":13.1,"dir":72},{"day":13.2,"dir":68},{"day":13.25,"dir":60},{"day":13.3,"dir":72},{"day":13.35,"dir":55},{"day":13.28,"dir":48},{"day":13.4,"dir":62},{"day":13.45,"dir":50},{"day":13.5,"dir":44},{"day":13.55,"dir":58},{"day":13.6,"dir":40},{"day":13.65,"dir":52},{"day":13.7,"dir":36},{"day":13.75,"dir":46},{"day":13.8,"dir":30},{"day":13.85,"dir":42},{"day":13.9,"dir":34},{"day":13.95,"dir":26},{"day":13.22,"dir":40},{"day":13.32,"dir":35},{"day":13.42,"dir":30},{"day":13.52,"dir":24},{"day":13.62,"dir":28},{"day":13.72,"dir":20},{"day":13.82,"dir":22},{"day":13.92,"dir":16},{"day":13.15,"dir":52},{"day":13.25,"dir":32},{"day":13.38,"dir":44},{"day":13.48,"dir":38},{"day":13.58,"dir":33},{"day":13.68,"dir":42},{"day":13.78,"dir":38},{"day":13.88,"dir":30},{"day":13.98,"dir":22},{"day":13.12,"dir":28},{"day":13.2,"dir":18},{"day":13.35,"dir":12},{"day":13.1,"dir":4},{"day":13.45,"dir":65},{"day":13.55,"dir":48},{"day":13.65,"dir":45},{"day":13.75,"dir":28},{"day":13.85,"dir":48},{"day":13.3,"dir":85},{"day":13.4,"dir":80},
          {"day":14.0,"dir":30},{"day":14.03,"dir":20},{"day":14.06,"dir":12},{"day":14.09,"dir":25},{"day":14.12,"dir":8},{"day":14.15,"dir":18},{"day":14.18,"dir":4},{"day":14.21,"dir":22},{"day":14.24,"dir":14},{"day":14.27,"dir":28},{"day":14.3,"dir":10},{"day":14.33,"dir":20},{"day":14.02,"dir":40},{"day":14.08,"dir":35},{"day":14.14,"dir":32},{"day":14.2,"dir":38},{"day":14.26,"dir":34},{"day":14.32,"dir":40},{"day":14.05,"dir":3},{"day":14.1,"dir":16},{"day":14.16,"dir":26},{"day":14.22,"dir":6},{"day":14.28,"dir":16},{"day":14.35,"dir":30},{"day":14.38,"dir":24},{"day":13.97,"dir":10},{"day":14.0,"dir":44},{"day":14.12,"dir":45},{"day":14.4,"dir":36},{"day":14.2,"dir":2},{"day":14.15,"dir":10},{"day":14.25,"dir":22},
          {"day":14.4,"dir":32},{"day":14.4,"dir":18},{"day":14.44,"dir":40},{"day":14.44,"dir":24},{"day":14.48,"dir":28},{"day":14.48,"dir":14},{"day":14.52,"dir":36},{"day":14.52,"dir":22},{"day":14.56,"dir":44},{"day":14.56,"dir":30},{"day":14.6,"dir":26},{"day":14.6,"dir":38},{"day":14.64,"dir":34},{"day":14.64,"dir":20},{"day":14.68,"dir":42},{"day":14.68,"dir":28},{"day":14.72,"dir":30},{"day":14.72,"dir":16},{"day":14.76,"dir":38},{"day":14.76,"dir":46},{"day":14.8,"dir":24},{"day":14.8,"dir":34},{"day":14.84,"dir":40},{"day":14.84,"dir":30},{"day":14.88,"dir":28},{"day":14.88,"dir":36},{"day":14.92,"dir":44},{"day":14.92,"dir":22},{"day":14.96,"dir":32},{"day":14.96,"dir":40},{"day":15.0,"dir":26},{"day":15.0,"dir":38},{"day":15.04,"dir":36},{"day":15.04,"dir":46},{"day":15.08,"dir":30},{"day":15.08,"dir":22},{"day":15.12,"dir":40},{"day":15.12,"dir":34},{"day":15.16,"dir":28},{"day":15.16,"dir":44},{"day":15.2,"dir":36},{"day":15.2,"dir":24},{"day":15.24,"dir":42},{"day":15.24,"dir":32},{"day":15.28,"dir":30},{"day":15.28,"dir":38},{"day":15.32,"dir":26},{"day":15.32,"dir":46},{"day":15.36,"dir":38},{"day":15.36,"dir":34},{"day":15.4,"dir":44},{"day":15.4,"dir":28},{"day":15.44,"dir":32},{"day":15.44,"dir":40},{"day":15.48,"dir":36},{"day":15.48,"dir":24},{"day":15.52,"dir":42},{"day":15.52,"dir":30},{"day":15.56,"dir":28},{"day":15.56,"dir":38},{"day":15.6,"dir":34},{"day":15.6,"dir":46},{"day":15.64,"dir":40},{"day":15.64,"dir":26},{"day":15.68,"dir":30},{"day":15.68,"dir":36},{"day":15.72,"dir":44},{"day":15.72,"dir":32},{"day":15.76,"dir":36},{"day":15.76,"dir":22},{"day":15.8,"dir":28},{"day":15.8,"dir":40},{"day":15.84,"dir":38},{"day":15.84,"dir":34},{"day":15.88,"dir":42},{"day":15.88,"dir":30},{"day":15.92,"dir":32},{"day":15.92,"dir":46},{"day":15.96,"dir":36},{"day":15.96,"dir":26},{"day":16.0,"dir":40},{"day":16.0,"dir":32},{"day":16.04,"dir":30},{"day":16.04,"dir":44},{"day":16.08,"dir":38},{"day":16.08,"dir":28},{"day":16.12,"dir":34},{"day":16.12,"dir":42},{"day":16.16,"dir":44},{"day":16.16,"dir":36},{"day":16.2,"dir":28},{"day":16.2,"dir":40},{"day":16.24,"dir":36},{"day":16.24,"dir":32},{"day":16.28,"dir":42},{"day":16.28,"dir":46},{"day":16.32,"dir":32},{"day":16.32,"dir":38},{"day":16.36,"dir":40},{"day":16.36,"dir":26},{"day":16.4,"dir":34},{"day":16.4,"dir":44},{"day":16.44,"dir":38},{"day":16.44,"dir":30},{"day":16.48,"dir":46},{"day":16.48,"dir":36},{"day":16.52,"dir":30},{"day":16.52,"dir":40},{"day":16.56,"dir":36},{"day":16.56,"dir":24},{"day":16.6,"dir":42},{"day":16.6,"dir":34},{"day":16.64,"dir":28},{"day":16.64,"dir":38},{"day":16.68,"dir":34},{"day":16.68,"dir":46},{"day":16.72,"dir":40},{"day":16.72,"dir":30},{"day":16.76,"dir":36},{"day":16.76,"dir":26},{"day":16.8,"dir":44},{"day":16.8,"dir":38},{"day":16.84,"dir":30},{"day":16.84,"dir":34},{"day":16.88,"dir":38},{"day":16.88,"dir":42},{"day":16.92,"dir":32},{"day":16.92,"dir":28},{"day":16.96,"dir":40},{"day":16.96,"dir":36},
          {"day":14.5,"dir":52},{"day":14.7,"dir":56},{"day":14.9,"dir":8},{"day":15.1,"dir":55},{"day":15.3,"dir":10},{"day":15.5,"dir":58},{"day":15.7,"dir":12},{"day":15.9,"dir":54},{"day":16.1,"dir":6},{"day":16.3,"dir":56},{"day":16.5,"dir":14},{"day":16.7,"dir":60},{"day":16.9,"dir":10},{"day":15.2,"dir":14},{"day":15.6,"dir":16},{"day":16.0,"dir":14},{"day":16.4,"dir":18},{"day":16.8,"dir":16},{"day":14.6,"dir":6},{"day":15.4,"dir":50},{"day":16.2,"dir":50},{"day":16.6,"dir":52},{"day":15.85,"dir":62},{"day":15.0,"dir":16},{"day":15.38,"dir":69},{"day":16.35,"dir":74},{"day":15.02,"dir":56},{"day":14.9,"dir":57},
          {"day":17.0,"dir":48},{"day":17.04,"dir":38},{"day":17.08,"dir":30},{"day":17.12,"dir":44},{"day":17.16,"dir":26},{"day":17.2,"dir":36},{"day":17.24,"dir":50},{"day":17.28,"dir":22},{"day":17.32,"dir":40},{"day":17.36,"dir":32},{"day":17.4,"dir":46},{"day":17.44,"dir":28},{"day":17.48,"dir":38},{"day":17.52,"dir":18},{"day":17.56,"dir":42},{"day":17.6,"dir":30},{"day":17.64,"dir":50},{"day":17.68,"dir":24},{"day":17.72,"dir":36},{"day":17.76,"dir":46},{"day":17.8,"dir":28},{"day":17.84,"dir":40},{"day":17.88,"dir":56},{"day":17.92,"dir":34},{"day":17.02,"dir":22},{"day":17.1,"dir":12},{"day":17.18,"dir":6},{"day":17.26,"dir":14},{"day":17.34,"dir":2},{"day":17.42,"dir":10},{"day":17.5,"dir":16},{"day":17.58,"dir":4},{"day":17.3,"dir":109},{"day":17.33,"dir":110},{"day":17.35,"dir":101},{"day":17.36,"dir":94},{"day":17.65,"dir":86},{"day":17.75,"dir":70},{"day":17.8,"dir":64},{"day":17.85,"dir":60},{"day":17.9,"dir":75},{"day":17.95,"dir":66},{"day":17.7,"dir":58},{"day":17.05,"dir":60},{"day":17.15,"dir":54},
          {"day":18.0,"dir":44},{"day":18.1,"dir":36},{"day":18.16,"dir":30},{"day":18.22,"dir":48},{"day":18.28,"dir":22},{"day":18.34,"dir":40},{"day":18.4,"dir":56},{"day":18.46,"dir":16},{"day":18.52,"dir":34},{"day":18.58,"dir":46},{"day":18.64,"dir":26},{"day":18.7,"dir":52},{"day":18.76,"dir":38},{"day":18.82,"dir":62},{"day":18.88,"dir":44},{"day":18.94,"dir":30},{"day":19.0,"dir":48},{"day":18.39,"dir":20},{"day":18.45,"dir":8},{"day":18.55,"dir":10},{"day":18.66,"dir":14},{"day":18.5,"dir":2},{"day":18.72,"dir":64},{"day":18.6,"dir":68},{"day":18.9,"dir":55},{"day":18.3,"dir":58},{"day":18.05,"dir":60},{"day":18.2,"dir":12},
          {"day":19.05,"dir":64},{"day":19.1,"dir":54},{"day":19.12,"dir":44},{"day":19.15,"dir":36},{"day":19.18,"dir":28},{"day":19.2,"dir":20},{"day":19.22,"dir":12},{"day":19.25,"dir":6},{"day":19.28,"dir":2},{"day":19.3,"dir":0},{"day":19.32,"dir":4},{"day":19.35,"dir":14},{"day":19.38,"dir":24},{"day":19.4,"dir":32},{"day":19.42,"dir":4},{"day":19.45,"dir":0},{"day":19.48,"dir":8},{"day":19.5,"dir":16},{"day":19.55,"dir":72},{"day":19.58,"dir":80},{"day":19.6,"dir":90},{"day":19.62,"dir":64},{"day":19.6,"dir":52},{"day":19.58,"dir":44},{"day":19.55,"dir":36},{"day":19.52,"dir":26},{"day":19.65,"dir":22},{"day":19.1,"dir":2},{"day":19.15,"dir":2},{"day":19.65,"dir":46},{"day":19.45,"dir":40},
          {"day":19.75,"dir":56},{"day":19.8,"dir":56},{"day":19.85,"dir":56},{"day":19.9,"dir":56},{"day":19.95,"dir":56},{"day":20.0,"dir":56},{"day":20.05,"dir":56},{"day":20.1,"dir":56},{"day":20.15,"dir":56},{"day":20.2,"dir":55},{"day":19.72,"dir":88},{"day":19.74,"dir":80},{"day":19.76,"dir":72},{"day":19.78,"dir":64},{"day":19.8,"dir":58},{"day":19.82,"dir":50},{"day":19.84,"dir":42},{"day":19.7,"dir":45},
          {"day":20.42,"dir":147},{"day":20.4,"dir":124},{"day":20.41,"dir":120},{"day":20.4,"dir":114},{"day":20.6,"dir":109},{"day":20.48,"dir":96},{"day":20.6,"dir":94},{"day":20.37,"dir":88},{"day":21.67,"dir":143},{"day":21.9,"dir":119},{"day":21.97,"dir":118},{"day":21.84,"dir":114},{"day":21.55,"dir":109},{"day":21.56,"dir":106},{"day":21.5,"dir":94},{"day":21.88,"dir":99},{"day":21.92,"dir":92},{"day":21.5,"dir":90},{"day":22.12,"dir":99},{"day":22.5,"dir":103},{"day":22.6,"dir":98},{"day":22.62,"dir":94},{"day":22.45,"dir":92},{"day":22.8,"dir":84},{"day":21.04,"dir":91},{"day":21.05,"dir":86},
          {"day":20.3,"dir":60},{"day":20.34,"dir":48},{"day":20.38,"dir":70},{"day":20.42,"dir":40},{"day":20.46,"dir":56},{"day":20.5,"dir":32},{"day":20.54,"dir":64},{"day":20.58,"dir":46},{"day":20.62,"dir":52},{"day":20.66,"dir":38},{"day":20.7,"dir":58},{"day":20.74,"dir":44},{"day":20.78,"dir":50},{"day":20.82,"dir":62},{"day":20.86,"dir":42},{"day":20.9,"dir":54},{"day":20.94,"dir":36},{"day":20.98,"dir":48},{"day":21.02,"dir":58},{"day":21.06,"dir":30},{"day":21.1,"dir":46},{"day":21.14,"dir":52},{"day":21.18,"dir":24},{"day":21.22,"dir":40},{"day":21.26,"dir":60},{"day":21.3,"dir":34},{"day":21.34,"dir":48},{"day":21.38,"dir":20},{"day":21.42,"dir":56},{"day":21.46,"dir":38},{"day":21.5,"dir":66},{"day":21.54,"dir":44},{"day":21.58,"dir":52},{"day":21.62,"dir":30},{"day":21.66,"dir":62},{"day":21.7,"dir":42},{"day":21.74,"dir":72},{"day":21.78,"dir":50},{"day":21.82,"dir":58},{"day":21.86,"dir":36},{"day":21.9,"dir":68},{"day":21.94,"dir":46},{"day":21.98,"dir":76},{"day":20.4,"dir":30},{"day":20.5,"dir":18},{"day":20.6,"dir":10},{"day":20.7,"dir":26},{"day":20.8,"dir":4},{"day":20.45,"dir":22},{"day":20.65,"dir":14},{"day":20.9,"dir":20},{"day":21.0,"dir":8},{"day":21.2,"dir":14},{"day":21.3,"dir":2},{"day":21.4,"dir":22},{"day":21.5,"dir":12},{"day":21.6,"dir":28},{"day":21.75,"dir":16},{"day":21.35,"dir":66},{"day":21.15,"dir":72},{"day":21.05,"dir":80},{"day":20.95,"dir":75},{"day":20.55,"dir":78},{"day":20.48,"dir":60},{"day":21.45,"dir":62},{"day":21.65,"dir":80},{"day":21.85,"dir":84},{"day":21.95,"dir":56},{"day":20.75,"dir":68},{"day":20.85,"dir":76},
          {"day":22.05,"dir":70},{"day":22.1,"dir":60},{"day":22.15,"dir":50},{"day":22.2,"dir":80},{"day":22.25,"dir":42},{"day":22.3,"dir":66},{"day":22.35,"dir":34},{"day":22.4,"dir":58},{"day":22.45,"dir":24},{"day":22.5,"dir":48},{"day":22.55,"dir":72},{"day":22.6,"dir":56},{"day":22.65,"dir":62},{"day":22.7,"dir":44},{"day":22.75,"dir":50},{"day":22.8,"dir":68},{"day":22.85,"dir":76},{"day":22.05,"dir":30},{"day":22.15,"dir":20},{"day":22.25,"dir":12},{"day":22.35,"dir":28},{"day":22.45,"dir":8},{"day":22.2,"dir":40},{"day":22.3,"dir":36},{"day":22.4,"dir":46},{"day":22.55,"dir":30},{"day":22.6,"dir":18},{"day":22.7,"dir":36},{"day":22.12,"dir":92},{"day":22.4,"dir":86},
          {"day":22.62,"dir":39},{"day":22.67,"dir":39},{"day":22.72,"dir":39},{"day":22.77,"dir":39},{"day":22.82,"dir":39},{"day":22.87,"dir":39},{"day":22.92,"dir":39},{"day":22.97,"dir":39},{"day":23.02,"dir":39},{"day":23.07,"dir":39},{"day":23.12,"dir":40},
          {"day":23.23,"dir":178},{"day":23.24,"dir":175},{"day":23.22,"dir":159},{"day":23.48,"dir":127},{"day":23.22,"dir":55},{"day":23.21,"dir":50},{"day":23.76,"dir":30},{"day":23.76,"dir":25},{"day":23.75,"dir":18},{"day":23.77,"dir":10},{"day":23.8,"dir":11},{"day":23.52,"dir":2},{"day":23.58,"dir":2},{"day":23.78,"dir":1},
          {"day":17.14,"dir":358},{"day":17.26,"dir":358},{"day":17.57,"dir":351},{"day":17.43,"dir":348},{"day":17.4,"dir":346},{"day":17.2,"dir":344},{"day":17.16,"dir":336},{"day":17.2,"dir":332},{"day":17.31,"dir":329},{"day":17.45,"dir":334},{"day":17.55,"dir":334},{"day":17.46,"dir":330},{"day":17.54,"dir":318},{"day":17.35,"dir":311},{"day":17.32,"dir":302},{"day":17.28,"dir":300},{"day":17.37,"dir":250},{"day":17.37,"dir":209},
          {"day":18.27,"dir":359},{"day":18.38,"dir":358},{"day":18.5,"dir":357},{"day":18.64,"dir":358},{"day":18.2,"dir":351},{"day":18.24,"dir":350},{"day":18.42,"dir":352},{"day":18.65,"dir":352},{"day":18.55,"dir":347},{"day":18.16,"dir":344},{"day":18.26,"dir":341},{"day":18.34,"dir":341},{"day":18.16,"dir":338},{"day":18.22,"dir":334},{"day":18.28,"dir":332},{"day":18.64,"dir":335},{"day":18.22,"dir":327},{"day":18.28,"dir":328},
          {"day":19.07,"dir":354},{"day":19.2,"dir":356},{"day":19.3,"dir":357},{"day":19.5,"dir":354},{"day":19.5,"dir":351},{"day":19.6,"dir":359},{"day":19.1,"dir":347},{"day":19.23,"dir":346},{"day":19.28,"dir":344},{"day":19.6,"dir":341},{"day":19.12,"dir":338},{"day":19.2,"dir":337},{"day":19.3,"dir":336},{"day":19.4,"dir":333},{"day":19.41,"dir":331},{"day":19.12,"dir":330},{"day":19.08,"dir":326},{"day":19.23,"dir":330},{"day":19.3,"dir":329},{"day":19.45,"dir":327},{"day":19.26,"dir":323},{"day":19.24,"dir":320},{"day":19.2,"dir":319},{"day":19.12,"dir":317},{"day":19.15,"dir":313},{"day":19.15,"dir":310},
          {"day":20.3,"dir":358},{"day":20.33,"dir":356},{"day":20.3,"dir":347},{"day":20.48,"dir":345},{"day":20.3,"dir":343},{"day":20.29,"dir":335},{"day":20.53,"dir":333},{"day":20.62,"dir":330},{"day":20.29,"dir":329},{"day":20.29,"dir":323},{"day":20.29,"dir":320},{"day":20.97,"dir":359},{"day":20.97,"dir":321},{"day":20.65,"dir":304},{"day":20.48,"dir":290},{"day":20.33,"dir":276},{"day":20.37,"dir":184},
          {"day":21.3,"dir":353},{"day":21.4,"dir":353},{"day":21.42,"dir":350},{"day":21.24,"dir":349},{"day":21.26,"dir":339},{"day":22.29,"dir":347},{"day":21.59,"dir":311},
          {"day":23.3,"dir":340},{"day":23.32,"dir":332},{"day":23.35,"dir":325},{"day":23.38,"dir":318},{"day":23.4,"dir":310},{"day":23.42,"dir":302},{"day":23.45,"dir":328},{"day":23.48,"dir":336},{"day":23.5,"dir":320},{"day":23.52,"dir":312},{"day":23.55,"dir":306},{"day":23.58,"dir":345},{"day":23.6,"dir":330},{"day":23.62,"dir":322},{"day":23.65,"dir":315},{"day":23.68,"dir":308},{"day":23.7,"dir":338},{"day":23.72,"dir":326},{"day":23.75,"dir":318},{"day":23.78,"dir":312},{"day":23.8,"dir":304},{"day":23.82,"dir":330},{"day":23.85,"dir":322},{"day":23.88,"dir":316},{"day":23.9,"dir":310},{"day":23.95,"dir":325},{"day":23.98,"dir":318},{"day":23.28,"dir":308},{"day":23.33,"dir":300},{"day":23.44,"dir":316},{"day":23.56,"dir":326},{"day":23.66,"dir":300},{"day":23.74,"dir":332},{"day":23.86,"dir":304},{"day":23.92,"dir":320},{"day":23.5,"dir":352},{"day":23.55,"dir":357},{"day":23.6,"dir":350},{"day":23.7,"dir":344},{"day":23.4,"dir":295},{"day":23.3,"dir":292},{"day":23.48,"dir":288},{"day":23.55,"dir":282},{"day":23.52,"dir":276},{"day":23.5,"dir":272},{"day":23.5,"dir":255},{"day":23.57,"dir":250},{"day":23.3,"dir":233},{"day":23.55,"dir":234},{"day":23.36,"dir":203},{"day":23.27,"dir":196},{"day":23.27,"dir":192},{"day":23.27,"dir":188},{"day":23.25,"dir":180},{"day":23.6,"dir":249},{"day":23.59,"dir":235},
          {"day":24.0,"dir":318},{"day":24.02,"dir":312},{"day":24.05,"dir":306},{"day":24.08,"dir":320},{"day":24.1,"dir":315},{"day":24.12,"dir":309},{"day":24.15,"dir":302},{"day":24.18,"dir":316},{"day":24.2,"dir":311},{"day":24.22,"dir":305},{"day":24.25,"dir":320},{"day":24.28,"dir":313},{"day":24.3,"dir":308},{"day":24.35,"dir":303},{"day":24.4,"dir":318},{"day":24.45,"dir":312},{"day":24.5,"dir":306},{"day":24.55,"dir":316},{"day":24.6,"dir":310},{"day":24.05,"dir":330},{"day":24.1,"dir":336},{"day":24.15,"dir":340},{"day":24.2,"dir":332},{"day":24.3,"dir":328},{"day":24.4,"dir":336},{"day":24.5,"dir":325},{"day":24.6,"dir":334},{"day":24.7,"dir":340},{"day":24.72,"dir":330},{"day":24.75,"dir":322},{"day":24.8,"dir":346},{"day":24.85,"dir":328},{"day":24.9,"dir":315},{"day":24.95,"dir":304},{"day":24.98,"dir":352},{"day":25.0,"dir":358},{"day":24.78,"dir":312},{"day":24.65,"dir":298},{"day":24.12,"dir":300},{"day":24.08,"dir":325},
          {"day":24.38,"dir":289},{"day":24.6,"dir":289},{"day":24.5,"dir":292},{"day":24.45,"dir":282},{"day":24.47,"dir":280},{"day":24.5,"dir":276},{"day":24.6,"dir":274},{"day":24.38,"dir":272},{"day":24.2,"dir":265},{"day":24.55,"dir":265},{"day":24.2,"dir":260},{"day":24.5,"dir":258},{"day":24.32,"dir":249},{"day":24.27,"dir":241},{"day":24.5,"dir":239},{"day":24.6,"dir":237},{"day":24.65,"dir":235},{"day":24.44,"dir":235},{"day":24.55,"dir":228},{"day":24.66,"dir":220},{"day":24.72,"dir":207},{"day":24.5,"dir":199},{"day":24.36,"dir":196},{"day":24.72,"dir":236},{"day":24.7,"dir":205},{"day":24.66,"dir":295},{"day":24.7,"dir":289},
          {"day":24.9,"dir":13},{"day":24.92,"dir":6},{"day":24.93,"dir":2},{"day":25.75,"dir":0},{"day":25.95,"dir":163},
          {"day":25.0,"dir":359},{"day":25.79,"dir":347},{"day":25.6,"dir":335},{"day":25.73,"dir":336},{"day":25.8,"dir":335},{"day":25.2,"dir":333},{"day":25.25,"dir":327},{"day":25.22,"dir":323},{"day":25.73,"dir":328},{"day":25.78,"dir":327},{"day":25.7,"dir":323},{"day":25.73,"dir":320},{"day":25.68,"dir":319},{"day":25.85,"dir":319},{"day":25.36,"dir":318},{"day":25.28,"dir":314},{"day":25.9,"dir":312},{"day":25.1,"dir":304},{"day":25.2,"dir":303},{"day":25.34,"dir":309},{"day":25.73,"dir":309},{"day":25.79,"dir":304},{"day":25.85,"dir":301},{"day":25.68,"dir":297},{"day":25.1,"dir":295},{"day":25.34,"dir":290},{"day":25.4,"dir":286},{"day":25.34,"dir":282},{"day":25.56,"dir":287},{"day":25.64,"dir":278},{"day":25.68,"dir":278},{"day":25.85,"dir":277},{"day":25.73,"dir":360},
          {"day":25.45,"dir":266},{"day":25.4,"dir":264},{"day":25.4,"dir":258},{"day":25.36,"dir":255},{"day":25.47,"dir":244},{"day":25.56,"dir":238},{"day":25.62,"dir":238},{"day":25.7,"dir":238},{"day":25.34,"dir":240},{"day":25.2,"dir":233},{"day":25.4,"dir":227},{"day":25.45,"dir":221},{"day":25.5,"dir":212},{"day":25.56,"dir":214},{"day":25.4,"dir":218},{"day":25.5,"dir":205},{"day":25.47,"dir":203},{"day":25.2,"dir":196},{"day":25.18,"dir":194},{"day":25.25,"dir":184},{"day":25.73,"dir":244},{"day":26.0,"dir":248},{"day":25.98,"dir":245},
          {"day":25.9,"dir":215},{"day":25.92,"dir":208},{"day":25.95,"dir":200},{"day":25.97,"dir":192},{"day":26.0,"dir":205},{"day":26.02,"dir":198},{"day":26.05,"dir":190},{"day":26.07,"dir":210},{"day":26.1,"dir":202},{"day":26.12,"dir":195},{"day":26.15,"dir":186},{"day":26.18,"dir":207},{"day":26.2,"dir":200},{"day":26.22,"dir":193},{"day":26.25,"dir":188},{"day":25.95,"dir":185},{"day":26.05,"dir":183},{"day":26.1,"dir":188},{"day":26.15,"dir":198},{"day":26.0,"dir":195},{"day":25.98,"dir":212},{"day":26.08,"dir":214},{"day":26.2,"dir":212},{"day":26.02,"dir":205},{"day":26.12,"dir":205},{"day":26.07,"dir":196},{"day":25.93,"dir":220},{"day":25.95,"dir":227},{"day":25.9,"dir":230},{"day":26.05,"dir":225},{"day":26.18,"dir":190},{"day":25.88,"dir":196},{"day":25.98,"dir":180},{"day":26.3,"dir":200},{"day":26.28,"dir":194},
          {"day":26.3,"dir":325},{"day":26.35,"dir":318},{"day":26.38,"dir":330},{"day":26.4,"dir":322},{"day":26.45,"dir":315},{"day":26.48,"dir":328},{"day":26.5,"dir":320},{"day":26.52,"dir":333},{"day":26.55,"dir":317},{"day":26.58,"dir":325},{"day":26.6,"dir":312},{"day":26.62,"dir":330},{"day":26.65,"dir":322},{"day":26.68,"dir":316},{"day":26.7,"dir":326},{"day":26.72,"dir":334},{"day":26.75,"dir":320},{"day":26.78,"dir":314},{"day":26.8,"dir":328},{"day":26.82,"dir":322},{"day":26.85,"dir":317},{"day":26.88,"dir":331},{"day":26.9,"dir":324},{"day":26.92,"dir":314},{"day":26.95,"dir":328},{"day":26.98,"dir":320},{"day":27.0,"dir":316},{"day":27.02,"dir":326},{"day":27.05,"dir":320},{"day":27.08,"dir":312},{"day":27.1,"dir":324},{"day":27.12,"dir":330},{"day":27.15,"dir":318},{"day":27.18,"dir":310},{"day":27.2,"dir":322},{"day":26.7,"dir":320},{"day":26.75,"dir":326},{"day":26.8,"dir":318},{"day":26.85,"dir":324},{"day":26.78,"dir":330},{"day":26.72,"dir":322},{"day":26.65,"dir":328},{"day":26.88,"dir":320},{"day":26.92,"dir":326},{"day":26.6,"dir":320},{"day":26.82,"dir":332},{"day":26.77,"dir":316},{"day":26.68,"dir":322},{"day":26.87,"dir":316},{"day":26.97,"dir":312},{"day":26.55,"dir":312},{"day":26.45,"dir":330},{"day":26.4,"dir":310},{"day":26.5,"dir":308},{"day":26.35,"dir":308},{"day":27.05,"dir":308},{"day":27.15,"dir":305},{"day":27.25,"dir":312},{"day":26.62,"dir":338},{"day":26.9,"dir":340},{"day":27.0,"dir":335},{"day":26.5,"dir":340},{"day":26.75,"dir":335},{"day":26.7,"dir":311},{"day":26.83,"dir":310},{"day":26.95,"dir":318},{"day":27.08,"dir":322},
          {"day":26.3,"dir":300},{"day":26.4,"dir":296},{"day":26.45,"dir":290},{"day":26.6,"dir":302},{"day":26.7,"dir":294},{"day":26.75,"dir":300},{"day":26.8,"dir":288},{"day":26.9,"dir":305},{"day":26.95,"dir":296},{"day":27.0,"dir":290},{"day":27.05,"dir":300},{"day":27.1,"dir":294},{"day":27.15,"dir":286},{"day":27.2,"dir":302},{"day":27.25,"dir":296},{"day":27.3,"dir":292},{"day":27.35,"dir":304},{"day":27.4,"dir":288},{"day":27.45,"dir":298},{"day":27.5,"dir":284},{"day":27.55,"dir":292},{"day":27.6,"dir":300},{"day":27.35,"dir":310},{"day":27.45,"dir":315},{"day":27.25,"dir":318},{"day":27.5,"dir":306},{"day":27.6,"dir":282},{"day":27.65,"dir":278},{"day":27.7,"dir":290},{"day":26.25,"dir":285},{"day":26.35,"dir":282},{"day":26.65,"dir":280},{"day":26.85,"dir":276},{"day":27.3,"dir":280},{"day":27.0,"dir":312},{"day":27.2,"dir":278},{"day":26.55,"dir":295},
          {"day":26.25,"dir":268},{"day":26.55,"dir":262},{"day":26.8,"dir":275},{"day":27.0,"dir":268},{"day":27.2,"dir":260},{"day":27.3,"dir":255},{"day":27.4,"dir":248},{"day":27.5,"dir":244},{"day":27.55,"dir":270},{"day":27.65,"dir":252},{"day":27.8,"dir":258},{"day":26.4,"dir":250},{"day":26.9,"dir":240},{"day":27.1,"dir":236},{"day":27.6,"dir":232},{"day":27.7,"dir":228},{"day":27.8,"dir":225},{"day":26.7,"dir":272},{"day":26.8,"dir":353},{"day":27.23,"dir":352},{"day":27.5,"dir":342},{"day":27.45,"dir":352},{"day":27.35,"dir":360},{"day":26.6,"dir":346},{"day":27.15,"dir":339},{"day":27.77,"dir":358},{"day":27.85,"dir":336},{"day":27.3,"dir":335},{"day":27.43,"dir":335},
          {"day":27.95,"dir":215},{"day":27.98,"dir":205},{"day":28.0,"dir":195},{"day":28.02,"dir":210},{"day":28.05,"dir":200},{"day":28.08,"dir":188},{"day":28.1,"dir":214},{"day":28.12,"dir":204},{"day":28.15,"dir":196},{"day":28.18,"dir":208},{"day":28.2,"dir":190},{"day":28.22,"dir":202},{"day":28.25,"dir":212},{"day":28.28,"dir":198},{"day":28.3,"dir":206},{"day":28.32,"dir":186},{"day":28.35,"dir":200},{"day":28.38,"dir":210},{"day":28.4,"dir":194},{"day":28.42,"dir":204},{"day":28.45,"dir":198},{"day":28.48,"dir":208},{"day":28.5,"dir":202},{"day":28.55,"dir":206},{"day":27.98,"dir":184},{"day":28.05,"dir":182},{"day":28.1,"dir":180},{"day":28.15,"dir":184},{"day":28.02,"dir":220},{"day":28.12,"dir":218},{"day":28.22,"dir":220},{"day":28.3,"dir":216},{"day":28.4,"dir":214},{"day":28.05,"dir":206},{"day":28.15,"dir":202},{"day":28.25,"dir":195},{"day":28.35,"dir":205},{"day":28.08,"dir":196},{"day":28.18,"dir":199},{"day":28.28,"dir":209},{"day":28.38,"dir":200},{"day":28.45,"dir":205},{"day":28.6,"dir":200},{"day":28.2,"dir":208},{"day":28.1,"dir":192},{"day":28.0,"dir":186},{"day":27.95,"dir":176},{"day":28.02,"dir":172},{"day":28.08,"dir":174},{"day":28.2,"dir":180},{"day":27.97,"dir":182},
          {"day":28.05,"dir":263},{"day":28.09,"dir":236},{"day":28.2,"dir":239},{"day":28.3,"dir":239},{"day":28.48,"dir":231},{"day":28.52,"dir":231},{"day":28.68,"dir":258},{"day":28.75,"dir":265},{"day":28.5,"dir":239},{"day":28.0,"dir":238},{"day":28.15,"dir":230},{"day":28.25,"dir":235},{"day":28.35,"dir":248},{"day":28.4,"dir":240},{"day":27.95,"dir":232},{"day":28.1,"dir":226},{"day":28.45,"dir":226},
          {"day":28.67,"dir":352},{"day":28.79,"dir":311},{"day":28.75,"dir":305},{"day":28.79,"dir":290},{"day":28.73,"dir":283},{"day":28.79,"dir":276},{"day":28.73,"dir":266},{"day":28.67,"dir":256},{"day":28.71,"dir":254},{"day":28.64,"dir":252},{"day":28.67,"dir":248},{"day":28.73,"dir":245},{"day":28.56,"dir":239},
          {"day":27.96,"dir":20},{"day":27.97,"dir":24},{"day":27.82,"dir":9},{"day":27.86,"dir":7},{"day":27.9,"dir":9},{"day":28.0,"dir":7},
          {"day":28.82,"dir":14},{"day":28.86,"dir":14},{"day":28.9,"dir":14},{"day":28.94,"dir":14},{"day":28.98,"dir":14},{"day":29.02,"dir":14},{"day":29.06,"dir":13},{"day":29.1,"dir":13},{"day":29.14,"dir":12},{"day":29.15,"dir":10},{"day":28.84,"dir":12},{"day":29.18,"dir":170},{"day":29.18,"dir":168},{"day":29.3,"dir":179},{"day":29.45,"dir":180},
          {"day":29.2,"dir":212},{"day":29.22,"dir":204},{"day":29.25,"dir":196},{"day":29.28,"dir":210},{"day":29.3,"dir":200},{"day":29.32,"dir":190},{"day":29.35,"dir":206},{"day":29.38,"dir":198},{"day":29.4,"dir":214},{"day":29.42,"dir":203},{"day":29.45,"dir":194},{"day":29.48,"dir":208},{"day":29.5,"dir":200},{"day":29.52,"dir":188},{"day":29.55,"dir":205},{"day":29.58,"dir":196},{"day":29.6,"dir":210},{"day":29.62,"dir":202},{"day":29.22,"dir":186},{"day":29.3,"dir":183},{"day":29.4,"dir":186},{"day":29.5,"dir":192},{"day":29.35,"dir":218},{"day":29.45,"dir":220},{"day":29.55,"dir":215},{"day":29.28,"dir":222},{"day":29.38,"dir":210},{"day":29.46,"dir":200},{"day":29.25,"dir":182},{"day":29.32,"dir":178},{"day":29.42,"dir":207},{"day":29.36,"dir":193},{"day":29.5,"dir":213},{"day":29.27,"dir":203},{"day":29.41,"dir":231},{"day":29.6,"dir":225},{"day":29.64,"dir":252},{"day":29.58,"dir":248},{"day":29.3,"dir":240},{"day":29.2,"dir":232},
          {"day":29.7,"dir":318},{"day":29.72,"dir":310},{"day":29.75,"dir":326},{"day":29.78,"dir":305},{"day":29.8,"dir":330},{"day":29.82,"dir":316},{"day":29.85,"dir":322},{"day":29.88,"dir":312},{"day":29.9,"dir":340},{"day":29.92,"dir":334},{"day":29.95,"dir":326},{"day":30.0,"dir":318},{"day":30.05,"dir":330},{"day":30.1,"dir":322},{"day":30.15,"dir":312},{"day":30.2,"dir":306},{"day":29.75,"dir":300},{"day":29.8,"dir":295},{"day":29.85,"dir":290},{"day":29.78,"dir":282},{"day":30.0,"dir":345},{"day":30.05,"dir":350},{"day":29.95,"dir":345},{"day":30.12,"dir":340},{"day":30.0,"dir":306},{"day":29.92,"dir":300},{"day":29.72,"dir":262},{"day":30.05,"dir":278},{"day":29.64,"dir":276},{"day":29.69,"dir":297},{"day":29.86,"dir":348},{"day":29.97,"dir":349},
          {"day":30.54,"dir":339},{"day":30.65,"dir":346},{"day":30.66,"dir":340},{"day":30.71,"dir":335},{"day":30.6,"dir":331},{"day":30.48,"dir":325},{"day":30.66,"dir":327},{"day":30.71,"dir":321},{"day":30.77,"dir":317},{"day":30.6,"dir":314},{"day":30.48,"dir":312},{"day":30.88,"dir":335},{"day":30.93,"dir":337},{"day":30.43,"dir":302},{"day":30.52,"dir":295},{"day":30.54,"dir":289},{"day":30.43,"dir":283},{"day":30.54,"dir":279},{"day":30.53,"dir":276},{"day":30.37,"dir":277},{"day":30.26,"dir":277},{"day":30.48,"dir":266},{"day":30.52,"dir":265},{"day":30.37,"dir":257},{"day":30.32,"dir":252},{"day":30.43,"dir":252},{"day":30.32,"dir":236},{"day":30.26,"dir":232},{"day":30.54,"dir":232},{"day":30.32,"dir":220},{"day":30.35,"dir":215},{"day":30.37,"dir":208},{"day":30.26,"dir":195},{"day":30.27,"dir":188},{"day":30.54,"dir":196},{"day":30.77,"dir":197},{"day":30.37,"dir":192},{"day":30.95,"dir":295},{"day":30.97,"dir":288},{"day":30.82,"dir":252},{"day":30.26,"dir":227},
          {"day":31.0,"dir":353},{"day":31.16,"dir":354},{"day":31.3,"dir":357},{"day":31.45,"dir":355},{"day":31.22,"dir":357},{"day":31.1,"dir":350},{"day":31.22,"dir":346},{"day":31.33,"dir":345},{"day":31.05,"dir":339},{"day":31.18,"dir":337},{"day":31.25,"dir":336},{"day":31.4,"dir":339},{"day":31.0,"dir":334},{"day":31.13,"dir":333},{"day":31.33,"dir":334},{"day":31.45,"dir":335},{"day":31.16,"dir":327},{"day":31.27,"dir":326},{"day":31.48,"dir":329},{"day":31.55,"dir":328},{"day":31.62,"dir":325},{"day":31.72,"dir":324},{"day":31.8,"dir":323},{"day":31.1,"dir":322},{"day":31.22,"dir":321},{"day":31.4,"dir":322},{"day":31.5,"dir":321},{"day":31.65,"dir":321},{"day":31.76,"dir":320},{"day":31.05,"dir":316},{"day":31.15,"dir":316},{"day":31.33,"dir":316},{"day":31.45,"dir":319},{"day":31.73,"dir":316},{"day":31.84,"dir":313},{"day":31.9,"dir":311},{"day":31.6,"dir":311},{"day":31.73,"dir":309},{"day":31.79,"dir":305},{"day":31.56,"dir":303},{"day":31.5,"dir":295},{"day":31.45,"dir":288},{"day":31.54,"dir":282},{"day":31.45,"dir":276},{"day":31.67,"dir":272},{"day":31.62,"dir":265},{"day":31.67,"dir":260},{"day":31.67,"dir":250},{"day":31.62,"dir":248},{"day":31.73,"dir":240},{"day":31.56,"dir":236},{"day":31.5,"dir":234},{"day":31.45,"dir":217},{"day":31.62,"dir":214},{"day":31.62,"dir":199},{"day":31.8,"dir":354},{"day":31.95,"dir":354},{"day":31.84,"dir":347},{"day":31.84,"dir":338},{"day":31.9,"dir":335},{"day":31.79,"dir":331},{"day":32.24,"dir":342},{"day":32.3,"dir":331},{"day":31.95,"dir":325},{"day":31.95,"dir":320},
          {"day":32.35,"dir":282},{"day":32.24,"dir":279},{"day":32.35,"dir":268},{"day":32.24,"dir":259},{"day":32.3,"dir":253},{"day":32.35,"dir":241},{"day":32.3,"dir":237},{"day":32.35,"dir":233},{"day":32.3,"dir":229},{"day":32.35,"dir":226},
          {"day":30.8,"dir":168},{"day":30.8,"dir":137},{"day":30.82,"dir":134},{"day":30.8,"dir":120},{"day":30.82,"dir":118},{"day":30.8,"dir":116},{"day":30.82,"dir":103},{"day":30.82,"dir":99},{"day":30.86,"dir":92},{"day":30.89,"dir":92},{"day":30.9,"dir":60},
          {"day":31.33,"dir":64},{"day":31.93,"dir":51},{"day":31.29,"dir":42},{"day":31.36,"dir":40},{"day":31.44,"dir":40},{"day":31.33,"dir":36},{"day":31.45,"dir":37},{"day":30.95,"dir":30},{"day":31.14,"dir":30},{"day":31.28,"dir":28},{"day":31.33,"dir":25},{"day":31.45,"dir":25},{"day":31.0,"dir":23},{"day":31.33,"dir":21},{"day":31.07,"dir":16},{"day":31.27,"dir":18},{"day":31.29,"dir":17},{"day":31.28,"dir":11},{"day":31.33,"dir":9},{"day":31.42,"dir":9},{"day":31.1,"dir":8},{"day":31.5,"dir":6},{"day":31.56,"dir":5},{"day":31.2,"dir":2},{"day":31.42,"dir":1},{"day":30.97,"dir":0},{"day":31.93,"dir":38},{"day":31.95,"dir":32},{"day":32.24,"dir":43},{"day":32.24,"dir":30},{"day":31.92,"dir":17},{"day":31.95,"dir":12},{"day":31.95,"dir":6},
          {"day":31.95,"dir":22},{"day":31.99,"dir":22},{"day":32.03,"dir":22},{"day":32.07,"dir":22},{"day":32.11,"dir":22},{"day":32.15,"dir":22},{"day":32.19,"dir":22},{"day":32.23,"dir":22},{"day":32.26,"dir":23},{"day":32.0,"dir":25},{"day":32.1,"dir":25}
        ]
      },
      "mark": {"type": "circle", "size": 18, "opacity": 1},
      "encoding": {
        "x": {
          "field": "day",
          "type": "quantitative",
          "scale": {"domain": [1, 32.37], "nice": false, "zero": false},
          "axis": {
            "values": [1,2,3,4,5,6,7,8,9,10,11,12,13,14,15,16,17,18,19,20,21,22,23,24,25,26,27,28,29,30,31,32],
            "labelExpr": "datum.value == 1 ? '1/00' : datum.value == 2 ? '2/00' : datum.value == 14 ? '14/00' : datum.value == 32 ? '1' : '' + datum.value",
            "title": "Date/Time (GMT)",
            "labelPadding": 6,
            "titlePadding": 12,
            "labelFlush": false,
            "labelOverlap": false
          }
        },
        "y": {
          "field": "dir",
          "type": "quantitative",
          "scale": {"domain": [0, 360], "nice": false},
          "axis": {
            "values": [0,45,90,135,180,225,270,315,360],
            "title": "Wind Direction (Degrees)",
            "labelPadding": 4,
            "titlePadding": 15,
            "labelFlush": false
          }
        },
        "color": {
          "datum": "Wind Direction",
          "scale": {"range": ["#800080"]},
          "legend": {
            "title": null,
            "orient": "none",
            "legendX": 410,
            "legendY": 585,
            "direction": "horizontal",
            "strokeColor": "#f2c200",
            "fillColor": "white",
            "padding": 6,
            "labelColor": "#1a1aff",
            "labelFontSize": 13,
            "labelFont": "Liberation Sans",
            "symbolType": "circle",
            "symbolSize": 18,
            "symbolFillColor": "#800080"
          }
        }
      }
    }
  ],
  "config": {
    "font": "Liberation Sans",
    "view": {"stroke": "black", "strokeWidth": 1},
    "axis": {
      "grid": true,
      "gridColor": "black",
      "gridDash": [3, 3],
      "gridOpacity": 1,
      "gridWidth": 1,
      "domainColor": "black",
      "tickColor": "black",
      "tickSize": 4,
      "labelColor": "#2e8b1a",
      "labelFont": "Liberation Sans",
      "labelFontSize": 12,
      "titleColor": "#ff0000",
      "titleFont": "Liberation Sans",
      "titleFontSize": 11,
      "titleFontWeight": "normal"
    }
  }
}
